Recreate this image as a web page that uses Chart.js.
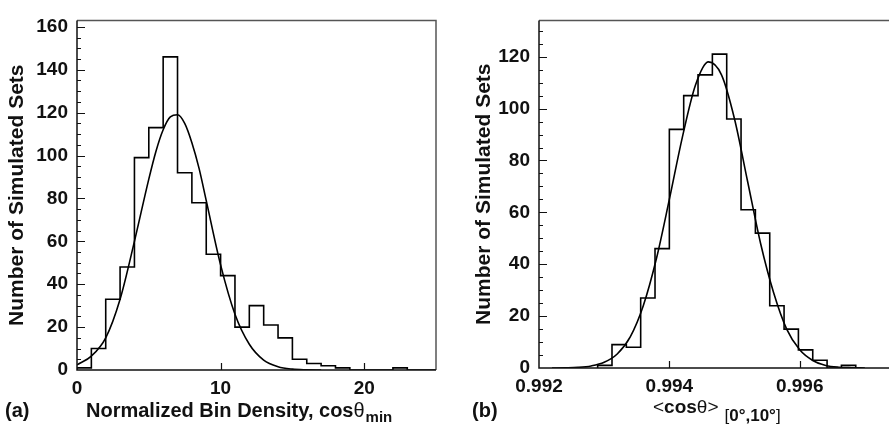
<!DOCTYPE html>
<html>
<head>
<meta charset="utf-8">
<script src="https://cdn.jsdelivr.net/npm/chart.js@4.4.1/dist/chart.umd.min.js"></script>
<style>
html, body { margin: 0; padding: 0; background: #fff; }
#wrap { position: relative; width: 889px; height: 434px; overflow: hidden; }
canvas { position: absolute; top: 0; }
#chartA { left: 0; }
#chartB { left: 445px; }
</style>
</head>
<body>
<div id="wrap">
  <canvas id="chartA" width="445" height="434"></canvas>
  <canvas id="chartB" width="444" height="434"></canvas>
</div>
<script>
// (a) normalized bin density histogram, bins of width 1 starting at 0
const binStartA = 0;
const binWidthA = 1;
const countsA = [1, 10, 33, 48, 99, 113, 146, 92, 78, 54, 44, 20, 30, 21, 15, 5, 3, 2, 1, 0, 0, 0, 1, 0, 0];
// gaussian fit
const fitXA = [0, 1, 2, 3, 4, 5, 5.5, 6, 6.5, 7, 7.5, 8, 8.5, 9, 10, 11, 12, 13, 14, 15, 16, 17];
const fitYA = [2.4, 6.5, 15, 33, 60, 89, 102, 112, 118, 119, 115, 106, 94, 79, 49, 26, 12, 4.6, 1.5, 0.4, 0.1, 0];
const xTicksA = [10, 20];

// (b) <cos theta> histogram
const binStartB = 0.9929;
const binWidthB = 0.00022;
const countsB = [1, 9, 8, 27, 46, 92, 105, 113, 121, 96, 61, 52, 24, 15, 7, 3, 0, 1];
const fitXB = [0.9922, 0.9924, 0.9926, 0.9928, 0.993, 0.9932, 0.9934, 0.9936, 0.9938, 0.994, 0.9942, 0.9944,
               0.9946, 0.9948, 0.995, 0.9952, 0.9954, 0.9956, 0.9958, 0.996, 0.9962, 0.9964, 0.9966, 0.9968, 0.997];
const fitYB = [0, 0.07, 0.24, 0.8, 2.2, 5.4, 12, 24, 42, 65, 89, 109, 118, 113, 96, 72, 48, 29, 15, 7, 2.9, 1, 0.3, 0.1, 0];
const xTicksB = [0.994, 0.996];

const FAM = "'Liberation Sans', Arial, Helvetica, sans-serif";
Chart.defaults.font.family = FAM;
Chart.defaults.color = '#111';

const stepPoints = (start, width, counts) => {
    let pts = [{ x: start, y: 0 }];
    counts.forEach((c, i) => pts.push({ x: start + i * width, y: c }));
    pts.push({ x: start + counts.length * width, y: 0 });
    return pts;
}

const curvePoints = (xs, ys) => xs.map((x, i) => ({ x: x, y: ys[i] }));

const drawParts = (ctx, x, y, parts) => {
    parts.forEach(p => {
        ctx.font = p.f;
        if (p.gap) x += p.gap;
        ctx.fillText(p.t, x, y + (p.dy || 0));
        x += ctx.measureText(p.t).width;
    });
}

// axes box, inward ticks and the x titles
const framePlugin = {
    id: 'frame',
    afterDraw(chart, args, opts) {
        const { ctx, chartArea: a, scales } = chart;
        const x = scales.x, y = scales.y;
        ctx.save();
        ctx.lineWidth = 1.5;
        ctx.strokeStyle = '#555';
        ctx.beginPath();
        ctx.moveTo(a.left, a.top);
        ctx.lineTo(a.right, a.top);
        if (opts.closed) ctx.lineTo(a.right, a.bottom);
        ctx.stroke();

        ctx.strokeStyle = '#111';
        ctx.beginPath();
        ctx.moveTo(a.left, a.top);
        ctx.lineTo(a.left, a.bottom);
        ctx.lineTo(a.right, a.bottom);
        ctx.stroke();

        ctx.lineWidth = 1.2;
        ctx.beginPath();
        for (let v = 5; v <= y.max; v += 5) {
            const py = Math.round(y.getPixelForValue(v)) + 0.5;
            const len = v % 20 === 0 ? 8 : 4;
            ctx.moveTo(a.left, py);
            ctx.lineTo(a.left + len, py);
        }
        opts.xTicks.forEach(v => {
            const px = Math.round(x.getPixelForValue(v)) + 0.5;
            ctx.moveTo(px, a.bottom);
            ctx.lineTo(px, a.bottom - 7);
        });
        ctx.stroke();

        ctx.fillStyle = '#111';
        ctx.textBaseline = 'alphabetic';
        ctx.textAlign = 'left';
        ctx.font = 'bold 20px ' + FAM;
        ctx.fillText(opts.panel, opts.panelX, 417);
        drawParts(ctx, opts.titleX, opts.titleY, opts.title);
        ctx.restore();
    }
}

const histChart = (el, cfg) => {
    return new Chart(document.getElementById(el), {
        type: 'line',
        data: {
            datasets: [{
                data: stepPoints(cfg.binStart, cfg.binWidth, cfg.counts),
                stepped: true,
                borderColor: '#000',
                borderWidth: 1.6,
                pointRadius: 0,
                fill: false
            }, {
                data: curvePoints(cfg.fitX, cfg.fitY),
                borderColor: '#000',
                borderWidth: 1.6,
                pointRadius: 0,
                cubicInterpolationMode: 'monotone',
                fill: false
            }]
        },
        options: {
            responsive: false,
            animation: false,
            devicePixelRatio: 1,
            layout: { padding: cfg.pad },
            plugins: {
                legend: { display: false },
                tooltip: { enabled: false },
                frame: cfg.frame
            },
            scales: {
                x: {
                    type: 'linear',
                    min: cfg.xMin,
                    max: cfg.xMax,
                    grid: { display: false, drawTicks: false },
                    border: { display: false },
                    ticks: {
                        stepSize: cfg.xStep,
                        includeBounds: false,
                        maxRotation: 0,
                        padding: 7,
                        font: { size: 19, weight: 'bold' },
                        callback: cfg.xFmt
                    },
                    afterFit: s => { s.height = 434 - cfg.bottom; }
                },
                y: {
                    type: 'linear',
                    min: 0,
                    max: cfg.yMax,
                    grid: { display: false, drawTicks: false },
                    border: { display: false },
                    ticks: {
                        stepSize: 20,
                        includeBounds: false,
                        padding: 9,
                        font: { size: 19, weight: 'bold' }
                    },
                    title: {
                        display: true,
                        text: 'Number of Simulated Sets',
                        font: { size: 21, weight: 'bold' },
                        padding: { top: cfg.yTitlePad, bottom: 0 }
                    },
                    afterFit: s => { s.width = cfg.left; }
                }
            }
        },
        plugins: [framePlugin]
    });
}

histChart('chartA', {
    binStart: binStartA, binWidth: binWidthA, counts: countsA,
    fitX: fitXA, fitY: fitYA,
    xMin: 0, xMax: 25, xStep: 10, yMax: 163,
    xFmt: v => v,
    left: 77, bottom: 370, yTitlePad: 5,
    pad: { top: 5, right: 9, left: 0, bottom: 0 },
    frame: {
        closed: true, xTicks: xTicksA,
        panel: '(a)', panelX: 5,
        titleX: 86, titleY: 417,
        title: [
            { t: 'Normalized Bin Density, cos', f: 'bold 20px ' + FAM },
            { t: 'θ', f: '20px ' + FAM },
            { t: 'min', f: 'bold 15px ' + FAM, dy: 5, gap: 1 }
        ]
    }
});

histChart('chartB', {
    binStart: binStartB, binWidth: binWidthB, counts: countsB,
    fitX: fitXB, fitY: fitYB,
    xMin: 0.992, xMax: 0.99737, xStep: 0.002, yMax: 134,
    xFmt: v => v.toFixed(3),
    left: 94, bottom: 368, yTitlePad: 27,
    pad: { top: 3, right: 0, left: 0, bottom: 0 },
    frame: {
        closed: false, xTicks: xTicksB,
        panel: '(b)', panelX: 27,
        titleX: 208, titleY: 413,
        title: [
            { t: '<', f: '19px ' + FAM },
            { t: 'cos', f: 'bold 19px ' + FAM },
            { t: 'θ', f: '19px ' + FAM },
            { t: '>', f: '19px ' + FAM },
            { t: '[', f: '17px ' + FAM, dy: 8, gap: 6 },
            { t: '0°,10°', f: 'bold 17px ' + FAM, dy: 8 },
            { t: ']', f: '17px ' + FAM, dy: 8 }
        ]
    }
});
</script>
</body>
</html>
